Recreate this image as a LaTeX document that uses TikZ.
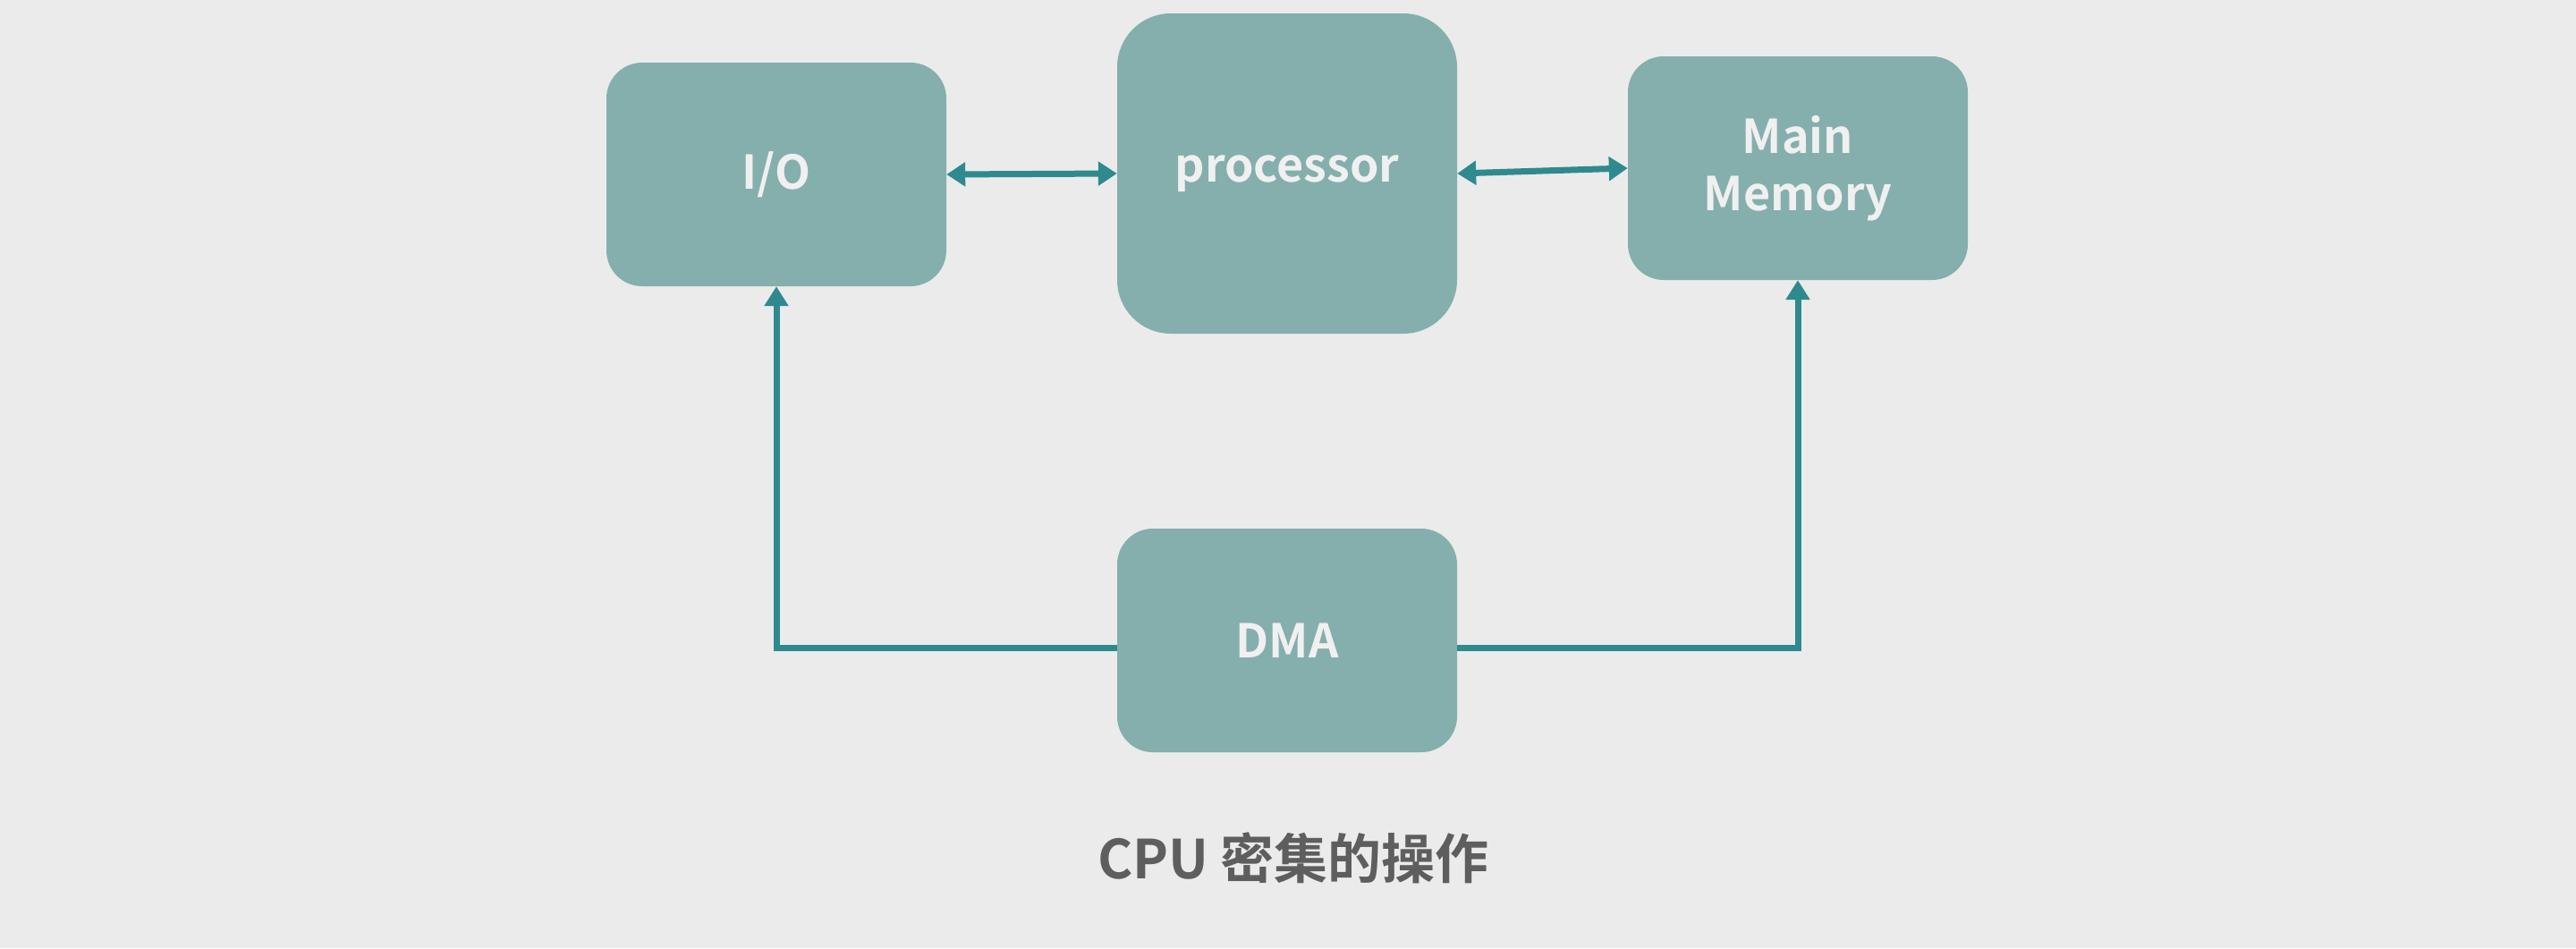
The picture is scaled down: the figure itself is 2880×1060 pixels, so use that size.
\documentclass[tikz,border=0pt]{standalone}
\usepackage{fontspec}
\newfontfamily\labelfont{Noto Sans CJK SC Bold}
\usetikzlibrary{arrows.meta}
\definecolor{bg}{HTML}{EBEBEC}
\definecolor{boxfill}{HTML}{84AFAD}
\definecolor{wire}{HTML}{2E8A8E}
\definecolor{boxtext}{HTML}{F0F0F0}
\definecolor{captext}{HTML}{5E5E5E}
\tikzset{
  unit/.style={fill=boxfill, draw=none, rounded corners=40pt, minimum width=380pt, minimum height=250pt,
    text=boxtext, font=\labelfont\fontsize{52}{64}\selectfont, align=center, inner sep=0pt},
  wirearrow/.style={draw=wire, line width=7pt, -{Triangle[length=22pt,width=26pt]}},
  dwire/.style={draw=wire, line width=7pt, {Triangle[length=21pt,width=26pt]}-{Triangle[length=21pt,width=26pt]}},
}
\begin{document}
\begin{tikzpicture}[x=1pt,y=-1pt]
\fill[bg] (0,0) rectangle (2880,1060);
\useasboundingbox (0,0) rectangle (2880,1060);
\node[unit] (io) at (868,195) {I/O};
\node[unit, rounded corners=60pt, minimum height=358pt] (proc) at (1439,194) {processor};
\node[unit] (mem) at (2010,188) {Main\\Memory};
\node[unit] (dma) at (1439,716) {};
\node[text=boxtext, font=\labelfont\fontsize{52}{64}\selectfont] (dmalabel) at (1439,716) {DMA};
\coordinate (dl) at (1249,724);
\coordinate (dr) at (1629,724);
\draw[dwire] (io.east) -- (proc.west);
\draw[dwire] (proc.east) -- (mem.west);
\draw[wirearrow] (dl) -| (io.south);
\draw[wirearrow] (dr) -| (mem.south);
\node[text=captext, font=\labelfont\fontsize{60}{72}\selectfont] (cap) at (1446,959) {CPU 密集的操作};
\end{tikzpicture}
\end{document}
